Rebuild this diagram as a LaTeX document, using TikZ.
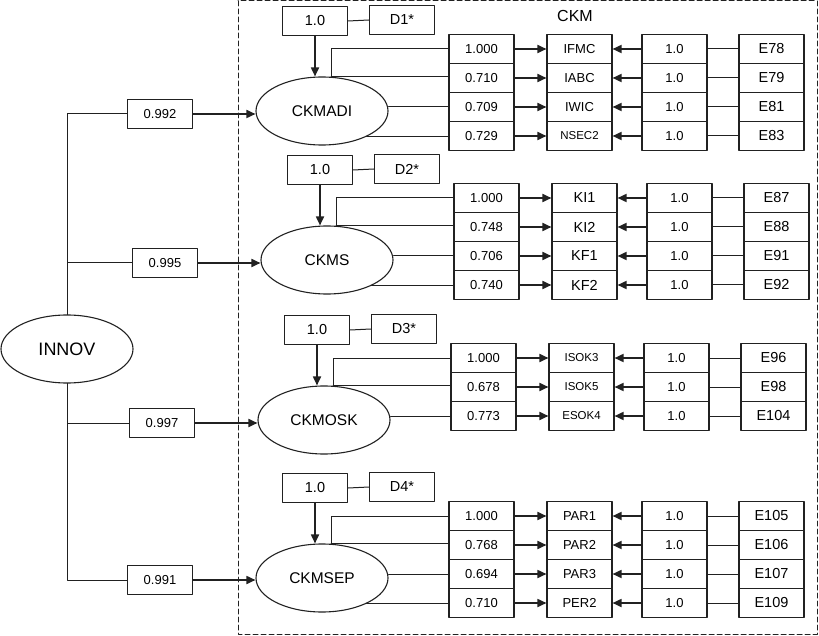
\documentclass[tikz,border=0pt]{standalone}
\usepackage{fontspec}
\setmainfont{Liberation Sans}
\usetikzlibrary{arrows.meta,shapes.geometric}
\definecolor{sqsqsq}{rgb}{0.13,0.13,0.13}
\tikzset{
	latent/.style={ellipse,draw=sqsqsq,line width=1.1pt,minimum width=132pt,minimum height=68pt,inner sep=0pt,font=\fontsize{15.5}{18}\selectfont},
	cellbox/.style={draw=sqsqsq,line width=1.1pt,minimum width=65pt,minimum height=29pt,inner sep=0pt,font=\fontsize{13}{15}\selectfont},
	bigbox/.style={cellbox,font=\fontsize{14.5}{17}\selectfont},
	smallbox/.style={cellbox,font=\fontsize{11.5}{13}\selectfont},
	link/.style={draw=sqsqsq,line width=1pt},
	arrowline/.style={draw=sqsqsq,line width=1.7pt,-{Triangle[length=9pt,width=8pt]}}
}
\begin{document}
\begin{tikzpicture}[line cap=round,line join=round,x=1pt,y=-1pt]
		\useasboundingbox (0,0) rectangle (819,636);
		\draw [sqsqsq,line width=1pt,dash pattern=on 5pt off 3pt] (238,1) rectangle (817,634);
		\node[font=\fontsize{16}{19}\selectfont] (ckm) at (575,16) {CKM};
	% second order factor
		\node[latent,font=\fontsize{18}{21}\selectfont] (innov) at (67,349) {INNOV};
		\node[cellbox] (p1) at (160,114) {0.992};
		\node[cellbox] (p2) at (165,263) {0.995};
		\node[cellbox] (p3) at (162,423) {0.997};
		\node[cellbox] (p4) at (160,580) {0.991};
	% CKMADI
		\node[latent] (a1) at (322,111) {CKMADI};
		\node[bigbox] (d1) at (315,21) {1.0};
		\node[bigbox] (D1) at (402,20) {D1*};
		\node[cellbox] (c11) at (481.5,49) {1.000};
		\node[cellbox] (c12) at (481.5,78) {0.710};
		\node[cellbox] (c13) at (481.5,107) {0.709};
		\node[cellbox] (c14) at (481.5,136) {0.729};
		\node[cellbox] (v11) at (579.5,49) {IFMC};
		\node[cellbox] (v12) at (579.5,78) {IABC};
		\node[cellbox] (v13) at (579.5,107) {IWIC};
		\node[smallbox] (v14) at (579.5,136) {NSEC2};
		\node[cellbox] (u11) at (674.5,49) {1.0};
		\node[cellbox] (u12) at (674.5,78) {1.0};
		\node[cellbox] (u13) at (674.5,107) {1.0};
		\node[cellbox] (u14) at (674.5,136) {1.0};
		\node[bigbox] (e11) at (771.5,49) {E78};
		\node[bigbox] (e12) at (771.5,78) {E79};
		\node[bigbox] (e13) at (771.5,107) {E81};
		\node[bigbox] (e14) at (771.5,136) {E83};
	% CKMS
		\node[latent] (a2) at (327,260) {CKMS};
		\node[bigbox] (d2) at (320,170) {1.0};
		\node[bigbox] (D2) at (407,169) {D2*};
		\node[cellbox] (c21) at (486.5,198) {1.000};
		\node[cellbox] (c22) at (486.5,227) {0.748};
		\node[cellbox] (c23) at (486.5,256) {0.706};
		\node[cellbox] (c24) at (486.5,285) {0.740};
		\node[bigbox] (v21) at (584.5,198) {KI1};
		\node[bigbox] (v22) at (584.5,227) {KI2};
		\node[bigbox] (v23) at (584.5,256) {KF1};
		\node[bigbox] (v24) at (584.5,285) {KF2};
		\node[cellbox] (u21) at (679.5,198) {1.0};
		\node[cellbox] (u22) at (679.5,227) {1.0};
		\node[cellbox] (u23) at (679.5,256) {1.0};
		\node[cellbox] (u24) at (679.5,285) {1.0};
		\node[bigbox] (e21) at (776.5,198) {E87};
		\node[bigbox] (e22) at (776.5,227) {E88};
		\node[bigbox] (e23) at (776.5,256) {E91};
		\node[bigbox] (e24) at (776.5,285) {E92};
	% CKMOSK
		\node[latent] (a3) at (324,420) {CKMOSK};
		\node[bigbox] (d3) at (317,330) {1.0};
		\node[bigbox] (D3) at (404,329) {D3*};
		\node[cellbox] (c31) at (483.5,358) {1.000};
		\node[cellbox] (c32) at (483.5,387) {0.678};
		\node[cellbox] (c33) at (483.5,416) {0.773};
		\node[smallbox] (v31) at (581.5,358) {ISOK3};
		\node[smallbox] (v32) at (581.5,387) {ISOK5};
		\node[smallbox] (v33) at (581.5,416) {ESOK4};
		\node[cellbox] (u31) at (676.5,358) {1.0};
		\node[cellbox] (u32) at (676.5,387) {1.0};
		\node[cellbox] (u33) at (676.5,416) {1.0};
		\node[bigbox] (e31) at (773.5,358) {E96};
		\node[bigbox] (e32) at (773.5,387) {E98};
		\node[bigbox] (e33) at (773.5,416) {E104};
	% CKMSEP
		\node[latent] (a4) at (322,578) {CKMSEP};
		\node[bigbox] (d4) at (315,488) {1.0};
		\node[bigbox] (D4) at (402,487) {D4*};
		\node[cellbox] (c41) at (481.5,516) {1.000};
		\node[cellbox] (c42) at (481.5,545) {0.768};
		\node[cellbox] (c43) at (481.5,574) {0.694};
		\node[cellbox] (c44) at (481.5,603) {0.710};
		\node[cellbox] (v41) at (579.5,516) {PAR1};
		\node[cellbox] (v42) at (579.5,545) {PAR2};
		\node[cellbox] (v43) at (579.5,574) {PAR3};
		\node[cellbox] (v44) at (579.5,603) {PER2};
		\node[cellbox] (u41) at (674.5,516) {1.0};
		\node[cellbox] (u42) at (674.5,545) {1.0};
		\node[cellbox] (u43) at (674.5,574) {1.0};
		\node[cellbox] (u44) at (674.5,603) {1.0};
		\node[bigbox] (e41) at (771.5,516) {E105};
		\node[bigbox] (e42) at (771.5,545) {E106};
		\node[bigbox] (e43) at (771.5,574) {E107};
		\node[bigbox] (e44) at (771.5,603) {E109};
	% paths from INNOV
		\draw [link] (innov.north) |- (p1.west);
		\draw [link] (innov.north) |- (p2.west);
		\draw [link] (innov.south) |- (p3.west);
		\draw [link] (innov.south) |- (p4.west);
		\draw [arrowline] (p1.east) -- (p1.east -| a1.west);
		\draw [arrowline] (p2.east) -- (p2.east -| a2.west);
		\draw [arrowline] (p3.east) -- (p3.east -| a3.west);
		\draw [arrowline] (p4.east) -- (p4.east -| a4.west);
	% disturbances
		\draw [link] (d1.east) -- (D1.west);
		\draw [link] (d2.east) -- (D2.west);
		\draw [link] (d3.east) -- (D3.west);
		\draw [link] (d4.east) -- (D4.west);
		\draw [arrowline] (d1.south) -- (d1.south |- a1.north);
		\draw [arrowline] (d2.south) -- (d2.south |- a2.north);
		\draw [arrowline] (d3.south) -- (d3.south |- a3.north);
		\draw [arrowline] (d4.south) -- (d4.south |- a4.north);
	% loadings
		\draw [link] (a1.75) |- (c11.west);
		\draw [link] (a1.75) -- (a1.75 -| c12.west);
		\draw [link] (a1.east |- c13.west) -- (c13.west);
		\draw [link] (a1.-30) -- (a1.-30 -| c14.west);
		\draw [link] (a2.75) |- (c21.west);
		\draw [link] (a2.75) -- (a2.75 -| c22.west);
		\draw [link] (a2.east |- c23.west) -- (c23.west);
		\draw [link] (a2.-30) -- (a2.-30 -| c24.west);
		\draw [link] (a3.75) |- (c31.west);
		\draw [link] (a3.75) -- (a3.75 -| c32.west);
		\draw [link] (a3.east |- c33.west) -- (c33.west);
		\draw [link] (a4.75) |- (c41.west);
		\draw [link] (a4.75) -- (a4.75 -| c42.west);
		\draw [link] (a4.east |- c43.west) -- (c43.west);
		\draw [link] (a4.-30) -- (a4.-30 -| c44.west);
	% indicators
		\draw [arrowline] (c11.east) -- (v11.west);
		\draw [arrowline] (c12.east) -- (v12.west);
		\draw [arrowline] (c13.east) -- (v13.west);
		\draw [arrowline] (c14.east) -- (v14.west);
		\draw [arrowline] (c21.east) -- (v21.west);
		\draw [arrowline] (c22.east) -- (v22.west);
		\draw [arrowline] (c23.east) -- (v23.west);
		\draw [arrowline] (c24.east) -- (v24.west);
		\draw [arrowline] (c31.east) -- (v31.west);
		\draw [arrowline] (c32.east) -- (v32.west);
		\draw [arrowline] (c33.east) -- (v33.west);
		\draw [arrowline] (c41.east) -- (v41.west);
		\draw [arrowline] (c42.east) -- (v42.west);
		\draw [arrowline] (c43.east) -- (v43.west);
		\draw [arrowline] (c44.east) -- (v44.west);
	% errors
		\draw [arrowline] (u11.west) -- (v11.east);
		\draw [arrowline] (u12.west) -- (v12.east);
		\draw [arrowline] (u13.west) -- (v13.east);
		\draw [arrowline] (u14.west) -- (v14.east);
		\draw [arrowline] (u21.west) -- (v21.east);
		\draw [arrowline] (u22.west) -- (v22.east);
		\draw [arrowline] (u23.west) -- (v23.east);
		\draw [arrowline] (u24.west) -- (v24.east);
		\draw [arrowline] (u31.west) -- (v31.east);
		\draw [arrowline] (u32.west) -- (v32.east);
		\draw [arrowline] (u33.west) -- (v33.east);
		\draw [arrowline] (u41.west) -- (v41.east);
		\draw [arrowline] (u42.west) -- (v42.east);
		\draw [arrowline] (u43.west) -- (v43.east);
		\draw [arrowline] (u44.west) -- (v44.east);
		\draw [link] (e11.west) -- (u11.east);
		\draw [link] (e12.west) -- (u12.east);
		\draw [link] (e13.west) -- (u13.east);
		\draw [link] (e14.west) -- (u14.east);
		\draw [link] (e21.west) -- (u21.east);
		\draw [link] (e22.west) -- (u22.east);
		\draw [link] (e23.west) -- (u23.east);
		\draw [link] (e24.west) -- (u24.east);
		\draw [link] (e31.west) -- (u31.east);
		\draw [link] (e32.west) -- (u32.east);
		\draw [link] (e33.west) -- (u33.east);
		\draw [link] (e41.west) -- (u41.east);
		\draw [link] (e42.west) -- (u42.east);
		\draw [link] (e43.west) -- (u43.east);
		\draw [link] (e44.west) -- (u44.east);
	\end{tikzpicture}
\end{document}
